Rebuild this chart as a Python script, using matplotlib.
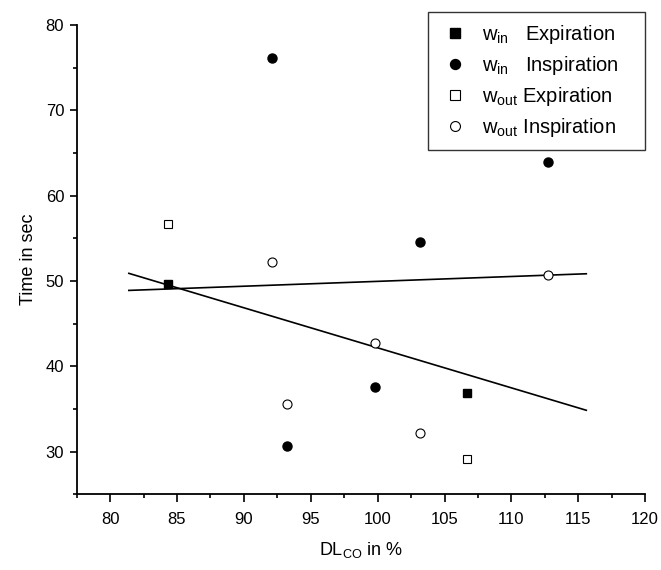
import matplotlib
matplotlib.use("Agg")
import matplotlib.pyplot as plt
from matplotlib.ticker import MultipleLocator

plt.rcParams['font.family'] = ['Liberation Sans', 'DejaVu Sans']
plt.rcParams['mathtext.fontset'] = 'custom'
plt.rcParams['mathtext.rm'] = 'Liberation Sans'
plt.rcParams['mathtext.it'] = 'Liberation Sans'
plt.rcParams['mathtext.default'] = 'regular'

# data
win_exp_x = [84.3, 106.7]
win_exp_y = [49.65, 36.9]
win_insp_x = [92.1, 93.2, 99.8, 103.2, 112.75]
win_insp_y = [76.15, 30.65, 37.6, 54.6, 63.9]
wout_exp_x = [84.3, 106.7]
wout_exp_y = [56.65, 29.15]
wout_insp_x = [92.1, 93.2, 99.8, 103.2, 112.75]
wout_insp_y = [52.2, 35.55, 42.7, 32.15, 50.7]

# fitted lines (end points)
fit_x = [81.4, 115.6]
fit1_y = [48.9, 50.85]
fit2_y = [50.9, 34.85]

fig = plt.figure(figsize=(6.61, 5.70), dpi=100)
ax = fig.add_axes([0.116, 0.1328, 0.860, 0.8232])

ax.plot(fit_x, fit1_y, color="black", lw=1.2)
ax.plot(fit_x, fit2_y, color="black", lw=1.2)

ax.plot(win_exp_x, win_exp_y, ls="none", marker="s", ms=6, mfc="black", mec="black",
        label=r"w$_{in}$   Expiration")
ax.plot(win_insp_x, win_insp_y, ls="none", marker="o", ms=6.5, mfc="black", mec="black",
        label=r"w$_{in}$   Inspiration")
ax.plot(wout_exp_x, wout_exp_y, ls="none", marker="s", ms=6, mfc="white", mec="black",
        mew=0.8, label=r"w$_{out}$ Expiration")
ax.plot(wout_insp_x, wout_insp_y, ls="none", marker="o", ms=6.5, mfc="white", mec="black",
        mew=0.8, label=r"w$_{out}$ Inspiration")

ax.set_xlim(77.5, 120)
ax.set_ylim(25, 80)
ax.xaxis.set_minor_locator(MultipleLocator(2.5))
ax.yaxis.set_minor_locator(MultipleLocator(5))
ax.set_xticks([80, 85, 90, 95, 100, 105, 110, 115, 120])
ax.set_yticks([30, 40, 50, 60, 70, 80])

ax.spines["top"].set_visible(False)
ax.spines["right"].set_visible(False)
ax.spines["left"].set_linewidth(1.3)
ax.spines["bottom"].set_linewidth(1.3)
ax.tick_params(which="major", direction="out", width=1.2, labelsize=12)
ax.tick_params(axis="x", which="major", length=6, pad=7)
ax.tick_params(axis="y", which="major", length=5, pad=4)
ax.tick_params(which="minor", direction="out", length=3, width=1.2)

ax.set_xlabel(r"DL$_{CO}$ in %", fontsize=13, labelpad=9)
ax.set_ylabel("Time in sec", fontsize=13, labelpad=6)

leg = ax.legend(loc="upper left", bbox_to_anchor=(428/661, 1 - 152/570, 217/661, 140/570),
                bbox_transform=fig.transFigure, mode="expand", borderaxespad=0,
                fontsize=14.5, frameon=True, fancybox=False, edgecolor="black",
                labelspacing=0.4, handlelength=1.6, handletextpad=0.54,
                borderpad=0.55, markerscale=1.1)
leg.get_frame().set_linewidth(1.0)

fig.savefig("out.png", dpi=100)
